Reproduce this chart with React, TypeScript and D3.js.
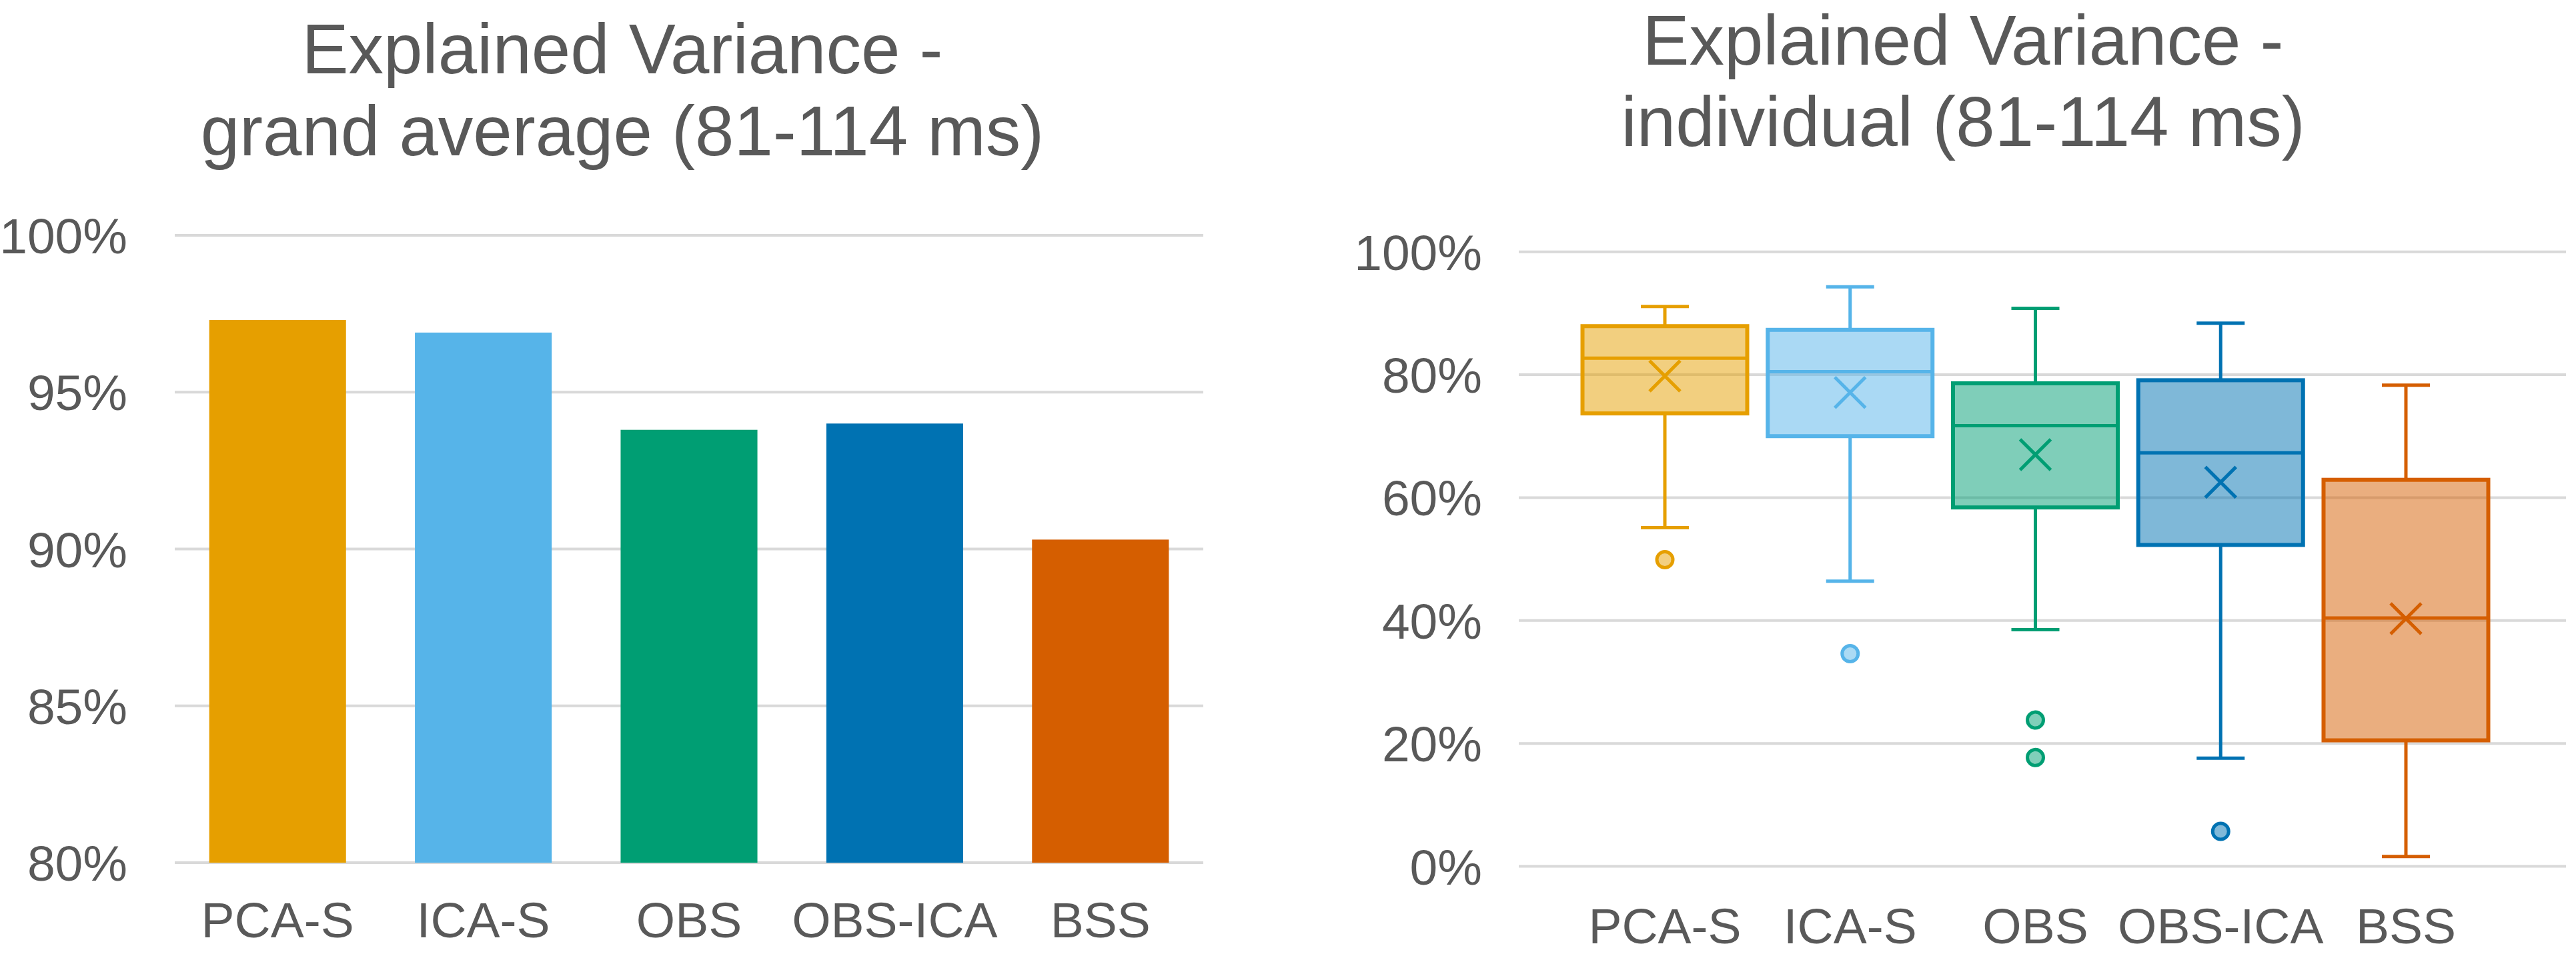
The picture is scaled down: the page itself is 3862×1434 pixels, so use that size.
import React, { useEffect, useRef } from 'react';
import * as d3 from 'd3';

const categories = ['PCA-S', 'ICA-S', 'OBS', 'OBS-ICA', 'BSS'];
const colors = ['#E69F00', '#56B4E9', '#009E73', '#0072B2', '#D55E00'];

// left panel: grand average explained variance (%)
const grandAverage = [97.3, 96.9, 93.8, 94.0, 90.3];
const leftTicks = [80, 85, 90, 95, 100];

// right panel: individual explained variance box plots (%)
const whiskerHigh = [91.1, 94.3, 90.8, 88.4, 78.3];
const q3 = [87.9, 87.3, 78.6, 79.1, 62.9];
const median = [82.7, 80.5, 71.7, 67.3, 40.4];
const q1 = [73.7, 70.0, 58.4, 52.3, 20.5];
const whiskerLow = [55.1, 46.4, 38.5, 17.6, 1.6];
const mean = [79.8, 77.1, 67.0, 62.5, 40.3];
const outliers = [[49.9], [34.6], [23.8, 17.7], [5.7], []];
const rightTicks = [0, 20, 40, 60, 80, 100];

const leftTitle = ['Explained Variance -', 'grand average (81-114 ms)'];
const rightTitle = ['Explained Variance -', 'individual (81-114 ms)'];

const W = 3862;
const H = 1434;
const TEXT = '#595959';
const GRID = '#D9D9D9';
const FONT = '"Liberation Sans", Arial, sans-serif';

export default function App() {
  const svgRef = useRef<SVGSVGElement>(null);

  useEffect(() => {
    if (!svgRef.current) return;
    const svg = d3.select(svgRef.current);
    svg.selectAll('*').remove();
    svg.attr('font-family', FONT);

    // ---------- left: bar chart ----------
    const xL = d3
      .scaleBand<string>()
      .domain(categories)
      .range([262, 1804])
      .paddingInner(0.335)
      .paddingOuter(0.1675);
    const yL = d3.scaleLinear().domain([80, 100]).range([1294, 353]);

    const left = svg.append('g');

    left
      .selectAll('line.grid')
      .data(leftTicks)
      .enter()
      .append('line')
      .attr('x1', 262)
      .attr('x2', 1804)
      .attr('y1', (d) => yL(d))
      .attr('y2', (d) => yL(d))
      .attr('stroke', GRID)
      .attr('stroke-width', 4);

    left
      .selectAll('text.tick')
      .data(leftTicks)
      .enter()
      .append('text')
      .attr('x', 191)
      .attr('y', (d) => yL(d))
      .attr('dy', '0.36em')
      .attr('text-anchor', 'end')
      .attr('font-size', 75)
      .attr('fill', TEXT)
      .text((d) => `${d}%`);

    left
      .selectAll('rect.bar')
      .data(grandAverage)
      .enter()
      .append('rect')
      .attr('x', (_d, i) => xL(categories[i])!)
      .attr('width', xL.bandwidth())
      .attr('y', (d) => yL(d))
      .attr('height', (d) => yL(80) - yL(d))
      .attr('fill', (_d, i) => colors[i]);

    left
      .selectAll('text.cat')
      .data(categories)
      .enter()
      .append('text')
      .attr('x', (d) => xL(d)! + xL.bandwidth() / 2)
      .attr('y', 1406)
      .attr('text-anchor', 'middle')
      .attr('font-size', 75)
      .attr('fill', TEXT)
      .text((d) => d);

    left
      .selectAll('text.title')
      .data(leftTitle)
      .enter()
      .append('text')
      .attr('x', 933)
      .attr('y', (_d, i) => 110 + i * 123)
      .attr('text-anchor', 'middle')
      .attr('font-size', 105)
      .attr('fill', TEXT)
      .text((d) => d);

    // ---------- right: box plots ----------
    const xR = d3.scalePoint<string>().domain(categories).range([2496, 3607]);
    const yR = d3.scaleLinear().domain([0, 100]).range([1299.5, 377.7]);
    const boxW = 247;
    const capW = 72;

    const right = svg.append('g');

    right
      .selectAll('line.grid')
      .data(rightTicks)
      .enter()
      .append('line')
      .attr('x1', 2277)
      .attr('x2', 3847)
      .attr('y1', (d) => yR(d))
      .attr('y2', (d) => yR(d))
      .attr('stroke', GRID)
      .attr('stroke-width', 4);

    right
      .selectAll('text.tick')
      .data(rightTicks)
      .enter()
      .append('text')
      .attr('x', 2222)
      .attr('y', (d) => yR(d))
      .attr('dy', '0.36em')
      .attr('text-anchor', 'end')
      .attr('font-size', 75)
      .attr('fill', TEXT)
      .text((d) => `${d}%`);

    categories.forEach((cat, i) => {
      const cx = xR(cat)!;
      const c = colors[i];
      const g = right.append('g');

      // whiskers
      g.append('line')
        .attr('x1', cx)
        .attr('x2', cx)
        .attr('y1', yR(q3[i]))
        .attr('y2', yR(whiskerHigh[i]))
        .attr('stroke', c)
        .attr('stroke-width', 5);
      g.append('line')
        .attr('x1', cx)
        .attr('x2', cx)
        .attr('y1', yR(q1[i]))
        .attr('y2', yR(whiskerLow[i]))
        .attr('stroke', c)
        .attr('stroke-width', 5);
      [whiskerHigh[i], whiskerLow[i]].forEach((v) => {
        g.append('line')
          .attr('x1', cx - capW / 2)
          .attr('x2', cx + capW / 2)
          .attr('y1', yR(v))
          .attr('y2', yR(v))
          .attr('stroke', c)
          .attr('stroke-width', 5);
      });

      // box
      g.append('rect')
        .attr('x', cx - boxW / 2)
        .attr('width', boxW)
        .attr('y', yR(q3[i]))
        .attr('height', yR(q1[i]) - yR(q3[i]))
        .attr('fill', c)
        .attr('fill-opacity', 0.5)
        .attr('stroke', c)
        .attr('stroke-width', 6);

      // median
      g.append('line')
        .attr('x1', cx - boxW / 2)
        .attr('x2', cx + boxW / 2)
        .attr('y1', yR(median[i]))
        .attr('y2', yR(median[i]))
        .attr('stroke', c)
        .attr('stroke-width', 5);

      // mean marker
      const my = yR(mean[i]);
      const s = 23;
      g.append('path')
        .attr('d', `M${cx - s},${my - s}L${cx + s},${my + s}M${cx - s},${my + s}L${cx + s},${my - s}`)
        .attr('stroke', c)
        .attr('stroke-width', 5)
        .attr('fill', 'none');

      // outliers
      g.selectAll('circle')
        .data(outliers[i])
        .enter()
        .append('circle')
        .attr('cx', cx)
        .attr('cy', (d) => yR(d))
        .attr('r', 12)
        .attr('fill', d3.interpolateRgb(c, '#ffffff')(0.5))
        .attr('stroke', c)
        .attr('stroke-width', 5);
    });

    right
      .selectAll('text.cat')
      .data(categories)
      .enter()
      .append('text')
      .attr('x', (d) => xR(d)!)
      .attr('y', 1415)
      .attr('text-anchor', 'middle')
      .attr('font-size', 75)
      .attr('fill', TEXT)
      .text((d) => d);

    right
      .selectAll('text.title')
      .data(rightTitle)
      .enter()
      .append('text')
      .attr('x', 2943)
      .attr('y', (_d, i) => 97 + i * 122)
      .attr('text-anchor', 'middle')
      .attr('font-size', 105)
      .attr('fill', TEXT)
      .text((d) => d);
  }, []);

  return (
    <div style={{ position: 'fixed', left: 0, top: 0, background: '#ffffff' }}>
      <svg ref={svgRef} width={W} height={H} style={{ display: 'block' }} />
    </div>
  );
}
